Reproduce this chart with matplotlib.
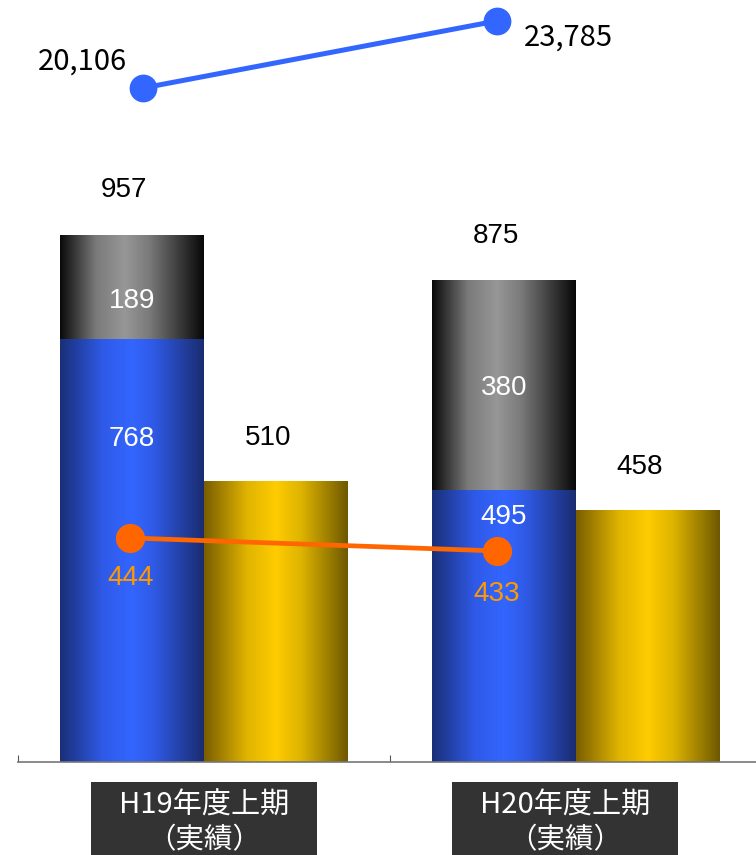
import numpy as np
import matplotlib.pyplot as plt
import matplotlib.transforms as mtransforms
from matplotlib.colors import LinearSegmentedColormap
from matplotlib.patches import Rectangle

categories = ["H19年度上期\n（実績）", "H20年度上期\n（実績）"]
blue_vals = [768, 495]
gray_vals = [189, 380]
gold_vals = [510, 458]
top_line = [20106, 23785]
orange_line = [444, 433]

W, H = 756, 855
fig = plt.figure(figsize=(W / 100, H / 100), dpi=100)
ax = fig.add_axes([18 / W, 93 / H, 744 / W, 762 / H])
ax.set_xlim(-0.5, 1.5)
ax.set_ylim(0, 1385)

num_font = "Liberation Sans"
jp_font = ["Noto Sans CJK JP", "DejaVu Sans"]

blue_cmap = LinearSegmentedColormap.from_list(
    "b", [(0, "#1a2f78"), (0.3, "#2f5ae8"), (0.5, "#3366ff"), (0.65, "#2f5ae6"), (1, "#1a2c70")])
gray_cmap = LinearSegmentedColormap.from_list(
    "g", [(0, "#0a0a0a"), (0.25, "#7a7a7a"), (0.45, "#979797"), (0.62, "#7a7a7a"), (1, "#080808")])
gold_cmap = LinearSegmentedColormap.from_list(
    "y", [(0, "#7a5e00"), (0.3, "#e0b400"), (0.5, "#ffcc00"), (0.68, "#ddb300"), (1, "#6e5800")])


def shade(rects, cmap):
    grad = np.linspace(0, 1, 256).reshape(1, -1)
    for r in rects:
        x0, y0, w, h = r.get_x(), r.get_y(), r.get_width(), r.get_height()
        ax.imshow(grad, cmap=cmap, extent=(x0, x0 + w, y0, y0 + h),
                  aspect="auto", interpolation="bilinear", zorder=2)


x = np.arange(len(categories))
bw = 0.387
blue_bars = ax.bar(x - bw / 2, blue_vals, bw, color="none")
gray_bars = ax.bar(x - bw / 2, gray_vals, bw, bottom=blue_vals, color="none")
gold_bars = ax.bar(x + bw / 2, gold_vals, bw, color="none")
shade(blue_bars, blue_cmap)
shade(gray_bars, gray_cmap)
shade(gold_bars, gold_cmap)
ax.set_xlim(-0.5, 1.5)
ax.set_ylim(0, 1385)

for s in ["top", "right", "left"]:
    ax.spines[s].set_visible(False)
ax.spines["bottom"].set_color("#777777")
ax.spines["bottom"].set_linewidth(1.2)
ax.spines["bottom"].set_zorder(3)
ax.set_yticks([])
ax.set_xticks([-0.5, 0.5, 1.5])
ax.set_xticklabels([])
ax.tick_params(axis="x", direction="in", length=5, color="#555555")

# value labels on bars
totals = [b + g for b, g in zip(blue_vals, gray_vals)]
blue_dy = [-100, -27]
gray_dy = [-14, -3]
for i in range(len(categories)):
    xb = x[i] - bw / 2
    ax.annotate(f"{totals[i]}", xy=(xb, totals[i]), xytext=(-8, 45),
                textcoords="offset pixels", ha="center", va="center",
                fontsize=20, family=num_font, color="black")
    ax.annotate(f"{gray_vals[i]}", xy=(xb, blue_vals[i] + gray_vals[i] / 2),
                xytext=(0, gray_dy[i]), textcoords="offset pixels", ha="center",
                va="center", fontsize=20, family=num_font, color="white", zorder=5)
    ax.annotate(f"{blue_vals[i]}", xy=(xb, blue_vals[i]), xytext=(0, blue_dy[i]),
                textcoords="offset pixels", ha="center", va="center",
                fontsize=20, family=num_font, color="white", zorder=5)
    ax.annotate(f"{gold_vals[i]}", xy=(x[i] + bw / 2, gold_vals[i]),
                xytext=(-8, 43), textcoords="offset pixels", ha="center",
                va="center", fontsize=20, family=num_font, color="black")

# lines on their own scales
ax2 = ax.twinx()
ax2.set_ylim(-16907, 24938)
ax3 = ax.twinx()
ax3.set_ylim(254.5, 899)
for a in (ax2, ax3):
    a.set_xlim(-0.5, 1.5)
    a.axis("off")

top_x = x - bw / 2 + np.array([0.03, -0.02])
ax2.plot(top_x, top_line, color="#3366ff", lw=3.6, marker="o",
         markersize=19, clip_on=False)
ax2.annotate(f"{top_line[0]:,}", xy=(top_x[0], top_line[0]), xytext=(-61, 26),
             textcoords="offset pixels", ha="center", va="center",
             fontsize=21, family=jp_font)
ax2.annotate(f"{top_line[1]:,}", xy=(top_x[1], top_line[1]), xytext=(72, -17),
             textcoords="offset pixels", ha="center", va="center",
             fontsize=21, family=jp_font)

or_x = x - bw / 2 + np.array([-0.005, -0.02])
ax3.plot(or_x, orange_line, color="#ff6600", lw=3.4, marker="o",
         markersize=20)
or_dy = [-40, -43]
for xi, v, dy in zip(or_x, orange_line, or_dy):
    ax3.annotate(f"{v}", xy=(xi, v), xytext=(0, dy), textcoords="offset pixels",
                 ha="center", va="center", fontsize=20, family=num_font,
                 color="#ff9900")

# category boxes
trans = mtransforms.blended_transform_factory(ax.transData, fig.transFigure)
box_dx = [0.0, -0.03]
for i, lab in enumerate(categories):
    cx = x[i] + box_dx[i]
    fig.patches.append(Rectangle((cx - 0.304, 0), 0.608, 73 / H, transform=trans,
                                 facecolor="#333333", edgecolor="none", zorder=1))
    l1, l2 = lab.split("\n")
    fig.text(cx, 1 - 806 / H, l1, transform=trans, ha="center", va="center",
             color="white", fontsize=21, family=jp_font, zorder=3)
    fig.text(cx, 1 - 840 / H, l2, transform=trans, ha="center", va="center",
             color="white", fontsize=20.5, family=jp_font, zorder=3)

fig.savefig("out.png", dpi=100)
